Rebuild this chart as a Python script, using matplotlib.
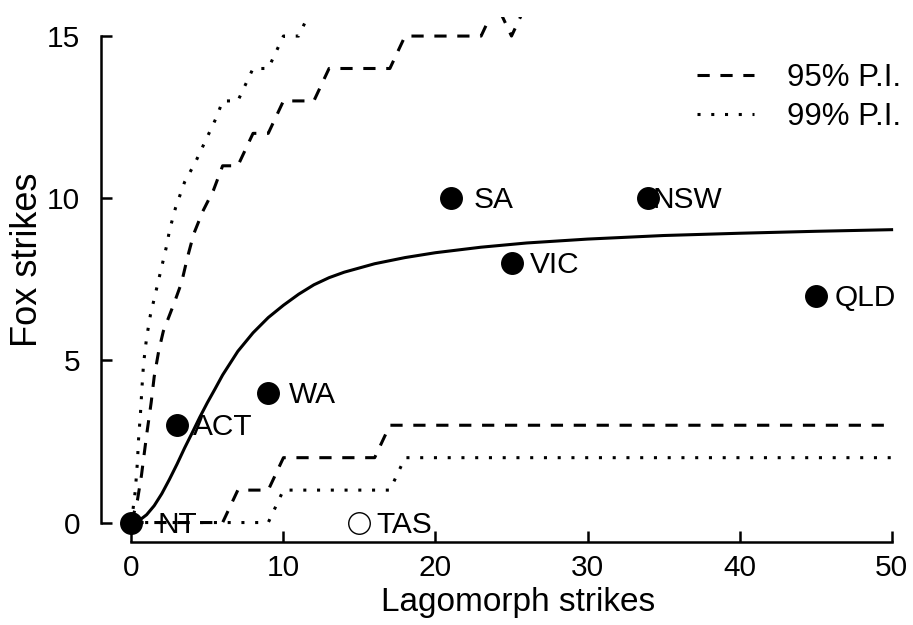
import numpy as np
import matplotlib.pyplot as plt

plt.rcParams['font.family'] = ['Liberation Sans', 'DejaVu Sans']

# State points
states = ['NT', 'ACT', 'WA', 'SA', 'VIC', 'NSW', 'QLD', 'TAS']
lago = [0, 3, 9, 21, 25, 34, 45, 15]
fox = [0, 3, 4, 10, 8, 10, 7, 0]
filled = [True, True, True, True, True, True, True, False]

# Fitted curve
fit_x = [0, 0.5, 1, 1.5, 2, 2.5, 3, 3.5, 4, 4.5, 5, 5.5, 6, 7, 8, 9, 10, 11, 12,
         13, 14, 16, 18, 20, 23, 26, 30, 35, 40, 45, 50]
fit_y = [0, 0.06, 0.24, 0.52, 0.89, 1.33, 1.8, 2.3, 2.77, 3.25, 3.7, 4.12, 4.55,
         5.28, 5.85, 6.32, 6.7, 7.04, 7.33, 7.55, 7.72, 7.98, 8.17, 8.32, 8.49,
         8.62, 8.74, 8.85, 8.92, 8.98, 9.03]

# 95% prediction interval
up95_x = [0, 0.4, 0.66, 1.0, 1.3, 1.5, 1.8, 2.1, 2.8, 3.3, 3.7, 4.1, 4.7, 5.4,
          6, 7, 8, 9, 10, 11, 12, 13, 17, 18, 23, 24, 25, 26, 30, 40, 50]
up95_y = [0, 0.7, 1.45, 2.7, 3.7, 4.5, 5.3, 5.9, 6.75, 7.4, 8.2, 8.9, 9.6, 10.25,
          11, 11, 12, 12, 13, 13, 13, 14, 14, 15, 15, 16, 15, 16, 17, 17, 18]
lo95_x = [0, 6, 7, 9, 10, 16, 17, 50]
lo95_y = [0, 0, 1, 1, 2, 2, 3, 3]

# 99% prediction interval
up99_x = [0, 0.26, 0.4, 0.46, 0.6, 0.7, 0.8, 1.0, 1.25, 1.45, 1.65, 2.0, 2.35,
          2.5, 2.9, 3.2, 3.5, 4.2, 4.9, 5.3, 5.6, 6, 7, 8, 9, 10, 11, 12, 20, 50]
up99_y = [0, 1.0, 1.9, 2.5, 3.4, 4.2, 4.9, 5.7, 6.4, 6.8, 7.2, 7.9, 8.6,
          9.0, 9.7, 10.1, 10.5, 11.1, 11.8, 12.2, 12.5, 13, 13, 14, 14, 15, 15,
          16, 18, 20]
lo99_x = [0, 9, 10, 17, 18, 50]
lo99_y = [0, 0, 1, 1, 2, 2]

# label offsets (points) to the right of each marker
label_dx = [18.5, 11.5, 15, 16.5, 13.5, 3, 13.5, 12]

fs = 21.5
lw = 2.2
dash = (0, (4, 3.5))
dot = (0, (1, 3.5))

fig = plt.figure(figsize=(9.13, 6.25), dpi=100)
ax = fig.add_axes([101 / 913, 83 / 625, 821 / 913, 525.4 / 625])

ax.plot(fit_x, fit_y, color='black', lw=lw)
ax.plot(up95_x, up95_y, color='black', lw=lw, linestyle=dash, label='95% P.I.')
ax.plot(lo95_x, lo95_y, color='black', lw=lw, linestyle=dash)
ax.plot(up99_x, up99_y, color='black', lw=lw, linestyle=dot, label='99% P.I.')
ax.plot(lo99_x, lo99_y, color='black', lw=lw, linestyle=dot)

for name, x, y, f, dx in zip(states, lago, fox, filled, label_dx):
    if f:
        ax.plot(x, y, 'o', color='black', markersize=15.5, zorder=5)
    else:
        ax.plot(x, y, 'o', markerfacecolor='white', markeredgecolor='black',
                markeredgewidth=1, markersize=15.5, zorder=5)
    ax.annotate(name, (x, y), xytext=(dx, -1.5), textcoords='offset points',
                fontsize=fs, va='center', ha='left', zorder=6)

ax.set_xlim(-2, 52)
ax.set_ylim(-0.6, 15.6)
ax.set_xticks([0, 10, 20, 30, 40, 50])
ax.set_yticks([0, 5, 10, 15])
for s in ['top', 'right']:
    ax.spines[s].set_visible(False)
ax.spines['left'].set_bounds(0, 15)
ax.spines['bottom'].set_bounds(0, 50)
ax.spines['left'].set_linewidth(1.8)
ax.spines['bottom'].set_linewidth(1.8)
ax.tick_params(direction='in', length=8, width=1.8, labelsize=fs)
ax.tick_params(axis='x', pad=9)
ax.tick_params(axis='y', pad=15)
ax.set_xlabel('Lagomorph strikes', fontsize=24)
ax.xaxis.set_label_coords((518 - 101) / 821, -0.085)
ax.set_ylabel('Fox strikes', fontsize=26)
ax.yaxis.set_label_coords(-0.068, (542 - 259.5) / 525.4)

ax.legend(loc='upper right', bbox_to_anchor=(901 / 913, 1 - 63 / 625),
          bbox_transform=fig.transFigure, frameon=False, fontsize=22.5,
          borderpad=0, borderaxespad=0, handlelength=1.82, handletextpad=1.05,
          labelspacing=0.29)

fig.savefig('out.png', dpi=100)
